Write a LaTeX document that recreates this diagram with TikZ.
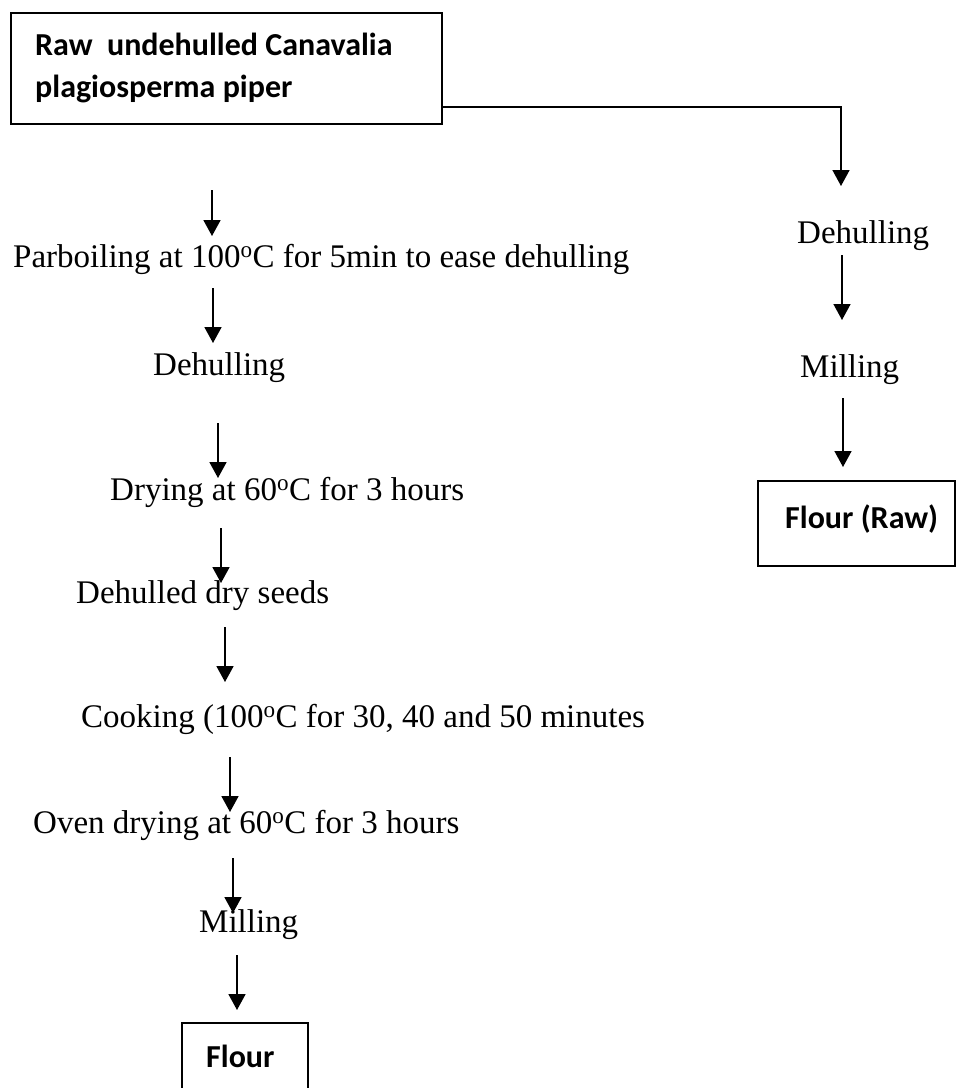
\documentclass[tikz,border=0pt]{standalone}
\usepackage{fontspec}
\setmainfont{Liberation Serif}
\newfontfamily\calb{Carlito}
\usetikzlibrary{arrows.meta}
\begin{document}
\begin{tikzpicture}[x=1pt,y=-1pt,
  txt/.style={inner sep=0pt, anchor=base west, font=\fontsize{33}{40}\selectfont},
  btxt/.style={inner sep=0pt, anchor=base west, font=\calb\bfseries\fontsize{32}{42}\selectfont},
  boxline/.style={draw, line width=1.5pt},
  arr/.style={-{Triangle[width=17pt,length=16pt]}, line width=1.8pt},
  arrthin/.style={-{Triangle[width=17pt,length=16pt]}, line width=1.5pt},
  ]
\useasboundingbox (0,0) rectangle (956,1088);
% top box
\node[boxline, minimum width=431pt, minimum height=111pt, anchor=north west, inner sep=0pt] (raw) at (10,12) {};
\node[btxt] (rawa) at (35,55) {Raw\ \ undehulled Canavalia};
\node[btxt] (rawb) at (35,97) {plagiosperma piper};

% right branch
\coordinate (c0) at (441,107);
\coordinate (c1) at (841,186);
\draw[arrthin] (c0) -| (c1);
\node[txt] (rdeh) at (797,243) {Dehulling};
\coordinate (r1a) at (842,255);
\coordinate (r1b) at (842,320);
\draw[arrthin] (r1a) -- (r1b);
\node[txt] (rmil) at (800,377) {Milling};
\coordinate (r2a) at (843,398);
\coordinate (r2b) at (843,467);
\draw[arrthin] (r2a) -- (r2b);
\node[boxline, minimum width=197pt, minimum height=85pt, anchor=north west, inner sep=0pt] (rflour) at (757,480) {};
\node[btxt] (rflourt) at (785,528) {Flour (Raw)};

% left chain
\coordinate (a1a) at (212,190);
\coordinate (a1b) at (212,236);
\draw[arr] (a1a) -- (a1b);
\node[txt] (parb) at (13,267) {Parboiling at 100\textsuperscript{o}C for 5min to ease dehulling};
\coordinate (a2a) at (213,288);
\coordinate (a2b) at (213,343);
\draw[arr] (a2a) -- (a2b);
\node[txt] (ldeh) at (153,375) {Dehulling};
\coordinate (a3a) at (218,423);
\coordinate (a3b) at (218,478);
\draw[arr] (a3a) -- (a3b);
\node[txt] (dry) at (110,500) {Drying at 60\textsuperscript{o}C for 3 hours};
\coordinate (a4a) at (221,528);
\coordinate (a4b) at (221,583);
\draw[arr] (a4a) -- (a4b);
\node[txt] (seeds) at (76,603) {Dehulled dry seeds};
\coordinate (a5a) at (225,627);
\coordinate (a5b) at (225,682);
\draw[arr] (a5a) -- (a5b);
\node[txt] (cook) at (81,727) {Cooking (100\textsuperscript{o}C for 30, 40 and 50 minutes};
\coordinate (a6a) at (230,757);
\coordinate (a6b) at (230,812);
\draw[arr] (a6a) -- (a6b);
\node[txt] (oven) at (33,833) {Oven drying at 60\textsuperscript{o}C for 3 hours};
\coordinate (a7a) at (233,858);
\coordinate (a7b) at (233,913);
\draw[arr] (a7a) -- (a7b);
\node[txt] (lmil) at (199,932) {Milling};
\coordinate (a8a) at (237,955);
\coordinate (a8b) at (237,1010);
\draw[arr] (a8a) -- (a8b);
\draw[line width=1.5pt] (182,1095) -- (182,1023) coordinate (fl1) -- (308,1023) coordinate (fl2) -- (308,1095);
\node[btxt] (flour) at (206,1067) {Flour};
\end{tikzpicture}
\end{document}
